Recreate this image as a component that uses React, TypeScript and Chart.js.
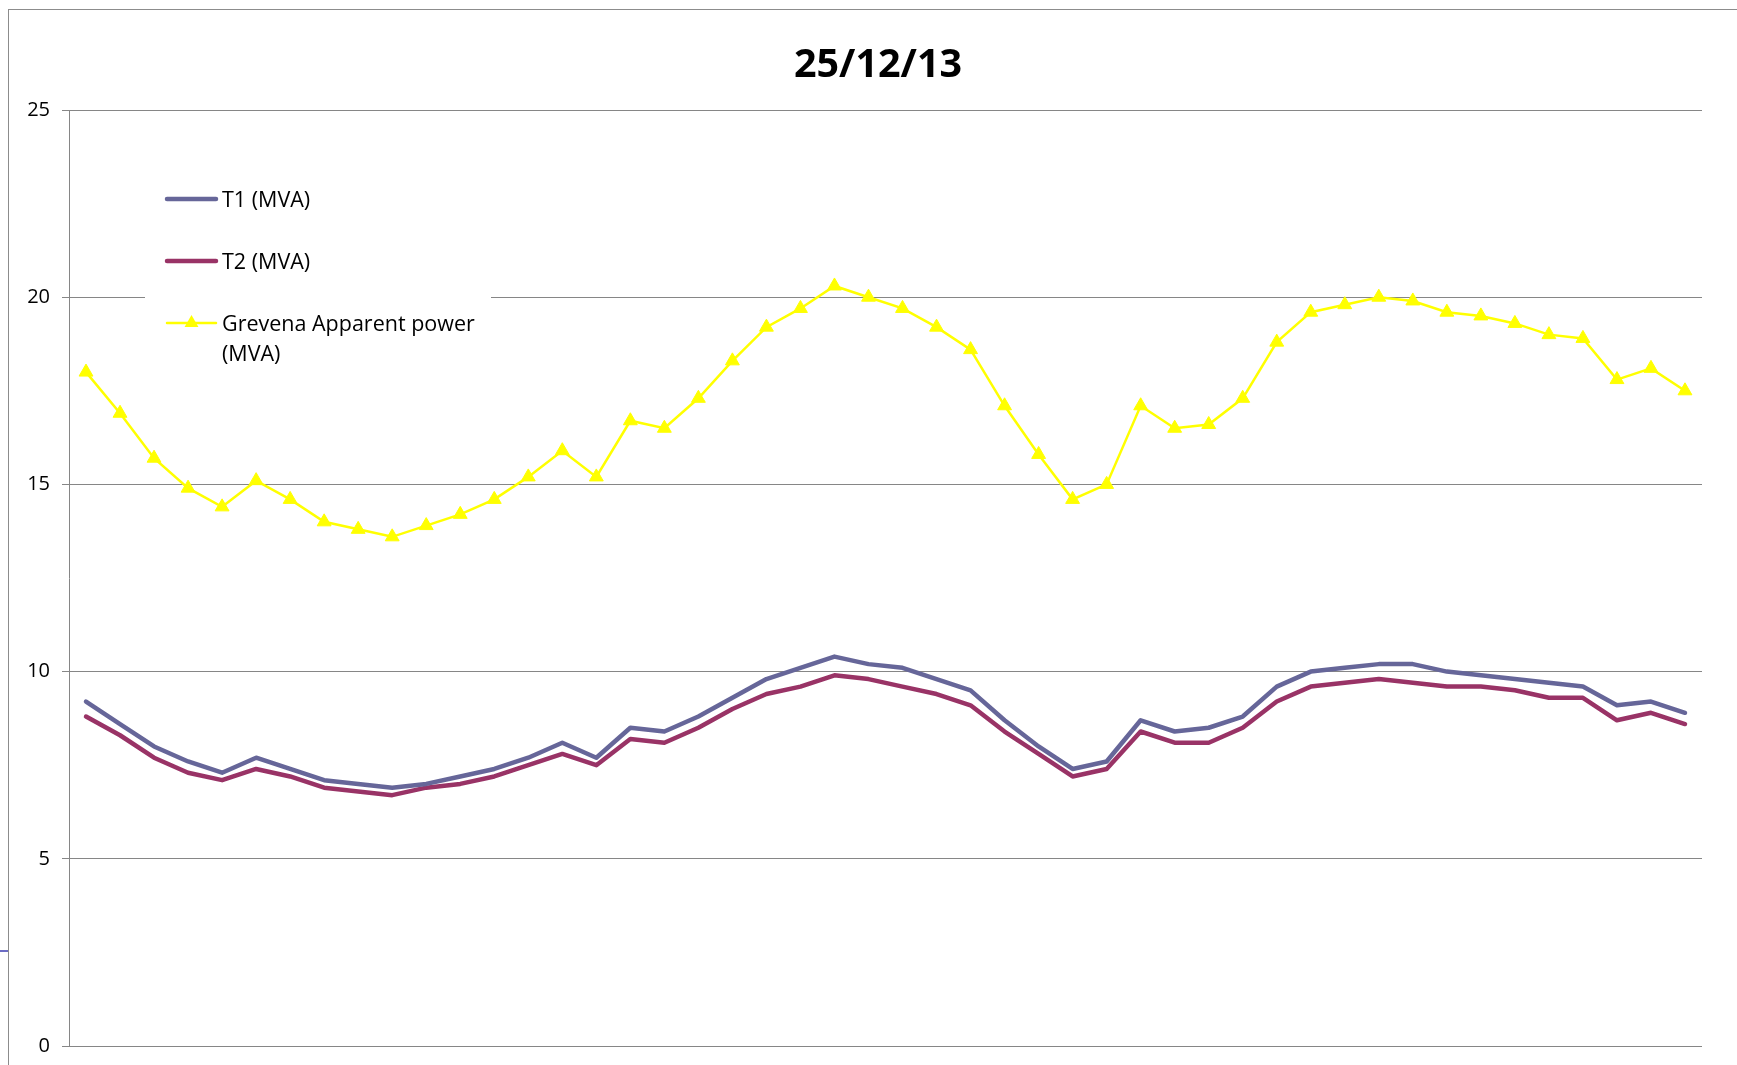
import React, { useEffect, useRef } from 'react';
import { Chart, registerables } from 'chart.js';

Chart.register(...registerables);

// ---- data ----
const chartTitle = '25/12/13';

const categories = [
  '00:30', '01:00', '01:30', '02:00', '02:30', '03:00', '03:30', '04:00', '04:30', '05:00', '05:30', '06:00',
  '06:30', '07:00', '07:30', '08:00', '08:30', '09:00', '09:30', '10:00', '10:30', '11:00', '11:30', '12:00',
  '12:30', '13:00', '13:30', '14:00', '14:30', '15:00', '15:30', '16:00', '16:30', '17:00', '17:30', '18:00',
  '18:30', '19:00', '19:30', '20:00', '20:30', '21:00', '21:30', '22:00', '22:30', '23:00', '23:30', '24:00',
];

const t1Values = [
  9.2, 8.6, 8.0, 7.6, 7.3, 7.7, 7.4, 7.1, 7.0, 6.9, 7.0, 7.2,
  7.4, 7.7, 8.1, 7.7, 8.5, 8.4, 8.8, 9.3, 9.8, 10.1, 10.4, 10.2,
  10.1, 9.8, 9.5, 8.7, 8.0, 7.4, 7.6, 8.7, 8.4, 8.5, 8.8, 9.6,
  10.0, 10.1, 10.2, 10.2, 10.0, 9.9, 9.8, 9.7, 9.6, 9.1, 9.2, 8.9,
];

const t2Values = [
  8.8, 8.3, 7.7, 7.3, 7.1, 7.4, 7.2, 6.9, 6.8, 6.7, 6.9, 7.0,
  7.2, 7.5, 7.8, 7.5, 8.2, 8.1, 8.5, 9.0, 9.4, 9.6, 9.9, 9.8,
  9.6, 9.4, 9.1, 8.4, 7.8, 7.2, 7.4, 8.4, 8.1, 8.1, 8.5, 9.2,
  9.6, 9.7, 9.8, 9.7, 9.6, 9.6, 9.5, 9.3, 9.3, 8.7, 8.9, 8.6,
];

const grevenaValues = [
  18.0, 16.9, 15.7, 14.9, 14.4, 15.1, 14.6, 14.0, 13.8, 13.6, 13.9, 14.2,
  14.6, 15.2, 15.9, 15.2, 16.7, 16.5, 17.3, 18.3, 19.2, 19.7, 20.3, 20.0,
  19.7, 19.2, 18.6, 17.1, 15.8, 14.6, 15.0, 17.1, 16.5, 16.6, 17.3, 18.8,
  19.6, 19.8, 20.0, 19.9, 19.6, 19.5, 19.3, 19.0, 18.9, 17.8, 18.1, 17.5,
];

const seriesNames = ['T1 (MVA)', 'T2 (MVA)', 'Grevena Apparent power (MVA)'];
const seriesColors = ['#666699', '#993366', '#FFFF00'];

const yMin = 0;
const yMax = 25;
const yStep = 5;

// ---- styling / layout ----
const W = 1737;
const H = 1065;
const FONT = "'Open Sans', 'Noto Sans', sans-serif";
const GRID = '#868686';

function wrapText(ctx: CanvasRenderingContext2D, text: string, maxW: number): string[] {
  const words = text.split(' ');
  const lines: string[] = [];
  let cur = '';
  for (const w of words) {
    const t = cur ? cur + ' ' + w : w;
    if (ctx.measureText(t).width > maxW && cur) {
      lines.push(cur);
      cur = w;
    } else cur = t;
  }
  if (cur) lines.push(cur);
  return lines;
}

const decorPlugin = {
  id: 'decor',
  beforeDraw(chart: any) {
    const ctx: CanvasRenderingContext2D = chart.ctx;
    ctx.save();
    ctx.fillStyle = '#ffffff';
    ctx.fillRect(0, 0, chart.width, chart.height);
    // outer frame (cropped at right and bottom)
    ctx.strokeStyle = '#8c8c8c';
    ctx.lineWidth = 1;
    ctx.strokeRect(8.5, 9.5, chart.width + 50, chart.height + 50);
    // small stray mark at left edge
    ctx.strokeStyle = '#3b3bb0';
    ctx.lineWidth = 1.5;
    ctx.beginPath();
    ctx.moveTo(0, 951);
    ctx.lineTo(8, 951);
    ctx.stroke();
    // title
    ctx.fillStyle = '#000';
    ctx.font = `700 39.5px ${FONT}`;
    ctx.textAlign = 'center';
    ctx.textBaseline = 'alphabetic';
    ctx.fillText(chartTitle, 878, 77);
    ctx.restore();
  },
  afterDatasetsDraw(chart: any) {
    const ctx: CanvasRenderingContext2D = chart.ctx;
    ctx.save();
    // legend background
    ctx.fillStyle = '#ffffff';
    ctx.fillRect(145, 165, 346, 210);
    ctx.font = `21.5px ${FONT}`;
    ctx.textAlign = 'left';
    ctx.textBaseline = 'alphabetic';
    const rows = [199, 261, 323];
    const baselines = [207, 269, 331];
    const x0 = 167;
    const x1 = 216;
    seriesNames.forEach((name, i) => {
      const y = rows[i];
      ctx.strokeStyle = seriesColors[i];
      ctx.lineCap = 'round';
      ctx.lineWidth = i < 2 ? 4.5 : 2.5;
      ctx.beginPath();
      ctx.moveTo(x0, y);
      ctx.lineTo(x1, y);
      ctx.stroke();
      if (i === 2) {
        const r = 8;
        const cx = (x0 + x1) / 2;
        ctx.fillStyle = seriesColors[i];
        ctx.beginPath();
        ctx.moveTo(cx, y - r);
        ctx.lineTo(cx + r * 0.866, y + r * 0.5);
        ctx.lineTo(cx - r * 0.866, y + r * 0.5);
        ctx.closePath();
        ctx.fill();
      }
      ctx.fillStyle = '#000';
      const lines = wrapText(ctx, name, 265);
      lines.forEach((ln, k) => ctx.fillText(ln, 222, baselines[i] + k * 30));
    });
    ctx.restore();
  },
};

export default function App() {
  const ref = useRef<HTMLCanvasElement | null>(null);

  useEffect(() => {
    if (!ref.current) return;
    const chart = new Chart(ref.current, {
      type: 'line',
      data: {
        labels: categories,
        datasets: [
          {
            label: seriesNames[0],
            data: t1Values,
            borderColor: seriesColors[0],
            backgroundColor: seriesColors[0],
            borderWidth: 4.5,
            pointRadius: 0,
            borderJoinStyle: 'round',
            borderCapStyle: 'round',
            tension: 0,
          },
          {
            label: seriesNames[1],
            data: t2Values,
            borderColor: seriesColors[1],
            backgroundColor: seriesColors[1],
            borderWidth: 4.5,
            pointRadius: 0,
            borderJoinStyle: 'round',
            borderCapStyle: 'round',
            tension: 0,
          },
          {
            label: seriesNames[2],
            data: grevenaValues,
            borderColor: seriesColors[2],
            backgroundColor: seriesColors[2],
            borderWidth: 2.5,
            pointStyle: 'triangle',
            pointRadius: 8,
            pointBorderWidth: 1,
            pointBackgroundColor: seriesColors[2],
            pointBorderColor: seriesColors[2],
            tension: 0,
          },
        ],
      } as any,
      options: {
        animation: false,
        responsive: false,
        devicePixelRatio: 1,
        events: [],
        layout: { padding: { left: 20, right: 35, top: 110, bottom: 19 } },
        plugins: {
          legend: { display: false },
          title: { display: false },
          tooltip: { enabled: false },
        },
        scales: {
          x: {
            type: 'category',
            display: false,
            offset: true,
          },
          y: {
            min: yMin,
            max: yMax,
            ticks: {
              stepSize: yStep,
              color: '#000',
              padding: 12,
              font: { family: FONT, size: 20 },
            },
            grid: { color: GRID, lineWidth: 1, tickLength: 7, drawTicks: true },
            border: { display: true, color: GRID, width: 1 },
            afterFit(scale: any) {
              scale.width = 49;
              scale.paddingTop = 0;
              scale.paddingBottom = 0;
            },
          },
        },
      } as any,
      plugins: [decorPlugin],
    });
    return () => chart.destroy();
  }, []);

  return (
    <div
      style={{
        position: 'fixed',
        left: 0,
        top: 0,
        width: W,
        height: H,
        overflow: 'hidden',
        background: '#fff',
      }}
    >
      <canvas ref={ref} width={W} height={H} style={{ display: 'block', width: W, height: H }} />
    </div>
  );
}
